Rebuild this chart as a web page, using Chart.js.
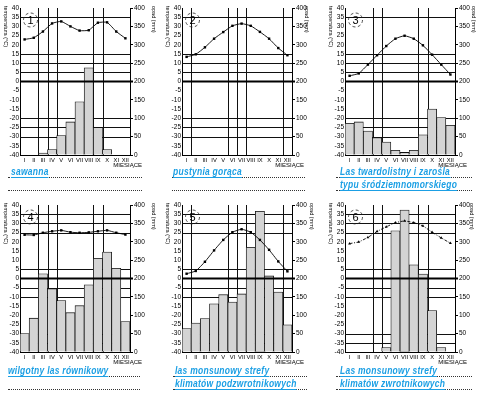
<!DOCTYPE html>
<html>
<head>
<meta charset="utf-8">
<script src="https://cdn.jsdelivr.net/npm/chart.js@4.4.0/dist/chart.umd.min.js"></script>
<style>
  html, body { margin: 0; padding: 0; background: #fff; }
  body { width: 487px; height: 401px; position: relative; overflow: hidden; }
  canvas { position: absolute; }
  .dots { position: absolute; height: 0; border-top: 1px dotted #333; }
  .cap { position: absolute; color: #1b9fe4; font: italic bold 10px 'Liberation Sans', sans-serif;
         white-space: nowrap; line-height: 10px; border-bottom: 1px solid #1b9fe4; letter-spacing: 0.3px;
         transform: scaleX(0.85); transform-origin: 0 0; }
</style>
</head>
<body>
<canvas id="c1" width="162" height="175"></canvas>
<canvas id="c2" width="162" height="175"></canvas>
<canvas id="c3" width="162" height="175"></canvas>
<canvas id="c4" width="162" height="175"></canvas>
<canvas id="c5" width="162" height="175"></canvas>
<canvas id="c6" width="162" height="175"></canvas>
<script>
// months on the x axis
const months = ['I', 'II', 'III', 'IV', 'V', 'VI', 'VII', 'VIII', 'IX', 'X', 'XI', 'XII'];

// temperature (°C) and precipitation (mm) for the six stations
const temp1 = [22.9, 23.8, 27.2, 31.6, 32.7, 30.0, 27.7, 27.9, 32.0, 32.2, 27.2, 23.5];
const rain1 = [0, 0, 5, 15, 53, 90, 145, 237, 75, 15, 0, 0];
const temp2 = [13.4, 14.8, 18.6, 23.3, 26.9, 30.3, 31.5, 30.3, 27.0, 23.3, 18.2, 14.3];
const rain2 = [0, 0, 0, 0, 0, 0, 0, 0, 0, 0, 0, 0];
const temp3 = [3.1, 4.4, 9.2, 14.3, 19.3, 23.3, 24.9, 23.3, 19.7, 14.6, 9.2, 3.8];
const rain3 = [86, 90, 65, 47, 35, 13, 7, 13, 55, 125, 102, 81];
const temp4 = [23.8, 23.7, 24.9, 25.7, 26.2, 25.2, 24.9, 25.1, 25.7, 26.2, 24.9, 23.9];
const rain4 = [50, 92, 213, 172, 140, 107, 126, 183, 255, 272, 228, 83];
const temp5 = [2.6, 4.1, 9.1, 15.3, 21.0, 25.2, 26.8, 25.2, 21.0, 15.6, 9.3, 3.9];
const rain5 = [64, 79, 91, 131, 156, 136, 158, 285, 383, 207, 163, 74];
const temp6 = [19.0, 19.9, 22.4, 25.6, 28.1, 30.4, 31.3, 30.4, 28.6, 25.2, 22.1, 19.2];
const rain6 = [0, 0, 0, 0, 12, 330, 386, 237, 212, 113, 12, 0];

// answers written under each diagram
const names1 = ['sawanna'];
const names2 = ['pustynia gorąca'];
const names3 = ['Las twardolistny i zarośla', 'typu śródziemnomorskiego'];
const names4 = ['wilgotny las równikowy'];
const names5 = ['las monsunowy strefy', 'klimatów podzwrotnikowych'];
const names6 = ['Las monsunowy strefy', 'klimatów zwrotnikowych'];

// worksheet rulings: temperature levels and month boundaries
const rowLines1 = [35, 15, 10, 5, -20, -25, -30];
const rowLines2 = [35, 30, 25, 5, -5, -10, -30, -35];
const colLines1 = [2, 3, 4, 8, 9];
const colLines2 = [1, 5, 6, 7, 11];
const colLines3 = [3, 4, 8, 9];

const FONT = "'Liberation Sans', Arial, sans-serif";

const sheetLines = {
    id: 'sheetLines',
    beforeDatasetsDraw(chart, args, opts) {
        const { ctx, chartArea: a, scales: { x, y } } = chart;
        ctx.save();
        ctx.strokeStyle = '#111';
        ctx.lineWidth = 1;
        ctx.beginPath();
        opts.rows.forEach(v => {
            const py = Math.round(y.getPixelForValue(v)) + 0.5;
            ctx.moveTo(a.left, py);
            ctx.lineTo(a.right, py);
        });
        const half = (x.getPixelForValue(1) - x.getPixelForValue(0)) / 2;
        opts.cols.forEach(k => {
            const px = Math.round(x.getPixelForValue(k) - half) + 0.5;
            ctx.moveTo(px, a.top);
            ctx.lineTo(px, a.bottom);
        });
        ctx.stroke();
        ctx.restore();
    },
    afterDatasetsDraw(chart) {
        const { ctx, chartArea: a, scales: { y } } = chart;
        const py = y.getPixelForValue(0);
        ctx.save();
        ctx.strokeStyle = '#000';
        ctx.lineWidth = 2;
        ctx.beginPath();
        ctx.moveTo(a.left, py);
        ctx.lineTo(a.right + 3, py);
        ctx.stroke();
        ctx.restore();
    },
    afterDraw(chart, args, opts) {
        const { ctx, chartArea: a } = chart;
        ctx.save();
        ctx.fillStyle = '#000';
        // axis titles, both read downwards
        ctx.font = '5.5px ' + FONT;
        ctx.textBaseline = 'middle';
        ctx.textAlign = 'left';
        [[a.left - 14.5, 'temperatura (°C)'], [a.right + opts.gap, 'opad (mm)']].forEach(([tx, txt]) => {
            ctx.save();
            ctx.translate(tx, a.top - 2);
            ctx.rotate(Math.PI / 2);
            ctx.fillText(txt, 0, 0);
            ctx.restore();
        });
        ctx.font = '6px ' + FONT;
        ctx.textAlign = 'right';
        ctx.fillText('MIESIĄCE', a.right + 12, a.bottom + 10.5);
        // numbered dashed circle
        const cx = a.left + 10.5, cy = a.top + 12;
        ctx.strokeStyle = '#222';
        ctx.lineWidth = 0.8;
        ctx.setLineDash([3, 2.5]);
        ctx.beginPath();
        ctx.arc(cx, cy, 7, 0, Math.PI * 2);
        ctx.stroke();
        ctx.setLineDash([]);
        ctx.font = '11px ' + FONT;
        ctx.textAlign = 'center';
        ctx.fillText(String(opts.num), cx, cy + 0.5);
        ctx.restore();
    }
};

function drawPanel(id, left, top, temps, rains, rows, cols, num, gap, dashed) {
    const canvas = document.getElementById(id);
    canvas.style.left = (left - 20) + 'px';
    canvas.style.top = (top - 8) + 'px';
    const tickFont = { family: FONT, size: 6.5 };
    new Chart(canvas, {
        data: {
            labels: months,
            datasets: [{
                type: 'line',
                data: temps,
                yAxisID: 'y',
                borderColor: '#000',
                borderWidth: 0.9,
                borderDash: dashed ? [3, 1.5, 1, 1.5] : [],
                pointStyle: dashed ? 'triangle' : 'rect',
                pointRadius: 1.7,
                pointBackgroundColor: '#000',
                pointBorderWidth: 0,
                tension: 0.15,
                order: 0
            }, {
                type: 'bar',
                data: rains,
                yAxisID: 'y1',
                backgroundColor: '#d4d4d4',
                borderColor: '#111',
                borderWidth: 0.8,
                barPercentage: 1,
                categoryPercentage: 1,
                order: 1
            }]
        },
        options: {
            responsive: false,
            animation: false,
            layout: { padding: { top: 8, left: 0, right: 0, bottom: 0 } },
            plugins: {
                legend: { display: false },
                tooltip: { enabled: false },
                sheetLines: { rows: rows, cols: cols, num: num, gap: gap }
            },
            scales: {
                x: {
                    grid: { display: false, drawTicks: false },
                    border: { display: true, color: '#000', width: 1 },
                    ticks: { font: { family: FONT, size: 5.8 }, color: '#000', padding: 2, maxRotation: 0, autoSkip: false },
                    afterFit: s => { s.height = 20; }
                },
                y: {
                    position: 'left',
                    min: -40, max: 40,
                    ticks: { stepSize: 5, font: tickFont, color: '#000', padding: 1, autoSkip: false },
                    grid: { drawOnChartArea: false, drawTicks: false },
                    border: { color: '#000', width: 1 },
                    afterFit: s => { s.width = 20; }
                },
                y1: {
                    position: 'right',
                    min: 0, max: 400,
                    ticks: { stepSize: 50, font: tickFont, color: '#000', padding: 1, autoSkip: false },
                    grid: { drawOnChartArea: false, drawTicks: true, tickLength: 3, color: '#000' },
                    border: { color: '#000', width: 1 },
                    afterFit: s => { s.width = 32; }
                }
            }
        },
        plugins: [sheetLines]
    });
}

drawPanel('c1', 20, 8, temp1, rain1, rowLines1, colLines1, 1, 24, false);
drawPanel('c2', 182, 8, temp2, rain2, rowLines1, colLines2, 2, 15, false);
drawPanel('c3', 345, 8, temp3, rain3, rowLines1, colLines3, 3, 19, false);
drawPanel('c4', 20, 205, temp4, rain4, rowLines2, colLines1, 4, 24, false);
drawPanel('c5', 182, 205, temp5, rain5, rowLines2, colLines2, 5, 20, false);
drawPanel('c6', 345, 205, temp6, rain6, rowLines2, colLines3, 6, 17, true);

// caption lines under each diagram
function caption(lines, x0, x1, tx, y0) {
    [0, 1].forEach(i => {
        const d = document.createElement('div');
        d.className = 'dots';
        d.style.left = x0 + 'px';
        d.style.width = (x1 - x0) + 'px';
        d.style.top = (y0 + i * 13) + 'px';
        document.body.appendChild(d);
        if (lines[i]) {
            const s = document.createElement('div');
            s.className = 'cap';
            s.textContent = lines[i];
            s.style.left = tx + 'px';
            s.style.top = (y0 + i * 13 - 10) + 'px';
            document.body.appendChild(s);
        }
    });
}
caption(names1, 8, 142, 11, 177);
caption(names2, 172, 305, 173, 177);
caption(names3, 336, 472, 340, 177);
caption(names4, 8, 140, 8, 376);
caption(names5, 173, 307, 175, 376);
caption(names6, 336, 472, 340, 376);
</script>
</body>
</html>
